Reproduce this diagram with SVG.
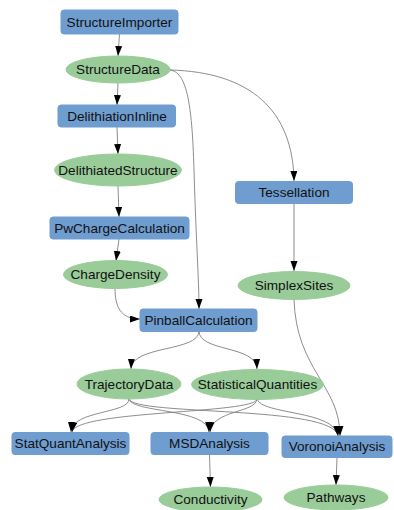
<svg xmlns="http://www.w3.org/2000/svg" width="394" height="510" viewBox="0 0 394 510">
<defs>
<marker id="arr" markerUnits="userSpaceOnUse" markerWidth="10" markerHeight="8" refX="10" refY="3.5" orient="auto">
<path d="M0,0 L10,3.5 L0,7 z" fill="#000"/>
</marker>
<style>
.box{fill:#6f9dd0;stroke:#6f9dd0;}
.ell{fill:#99cc99;stroke:#99cc99;}
.t{font-family:"Liberation Sans",Arial,sans-serif;font-size:13.6px;fill:#111;text-anchor:middle;dominant-baseline:central;}
.e{fill:none;stroke:#808080;stroke-width:0.9;marker-end:url(#arr);}
</style>
</defs>
<rect width="394" height="510" fill="#fff"/>
<g id="connectors">
<path class="e" d="M119.5,34 L118,56"/>
<path class="e" d="M118,83 L117,105"/>
<path class="e" d="M117,127 L118,154"/>
<path class="e" d="M118,186 L119,217"/>
<path class="e" d="M119,239 L116,261"/>
<path class="e" d="M115,288 C115,306 120,319 140,319"/>
<path class="e" d="M170,70 C186,72 192,100 194,170 C196,240 199,280 199,309"/>
<path class="e" d="M170,70 C250,72 293,110 294,181"/>
<path class="e" d="M294,203 L294,271"/>
<path class="e" d="M294,299 C296,370 340,385 340,436"/>
<path class="e" d="M199,331 C199,352 132,345 131,369"/>
<path class="e" d="M199,331 C199,352 256,345 257,369"/>
<path class="e" d="M129,399 C129,414 72,410 71,432"/>
<path class="e" d="M129,399 C132,413 208,408 209,432"/>
<path class="e" d="M129,399 C134,416 334,405 338,436"/>
<path class="e" d="M257,399 C256,414 76,410 72,432"/>
<path class="e" d="M257,399 C256,413 212,410 210,432"/>
<path class="e" d="M257,399 C262,415 335,410 338,436"/>
<path class="e" d="M209.5,454.5 L210.5,487"/>
<path class="e" d="M337,457.5 L336,485"/>
</g>
<g id="StructureImporter"><rect class="box" x="61" y="10" width="117" height="24" rx="3"/><text class="t" x="119.5" y="22">StructureImporter</text></g>
<g id="StructureData"><ellipse class="ell" cx="118" cy="69.5" rx="52" ry="13.5"/><text class="t" x="118" y="69.5">StructureData</text></g>
<g id="DelithiationInline"><rect class="box" x="58" y="105" width="117.5" height="22" rx="3"/><text class="t" x="117" y="116">DelithiationInline</text></g>
<g id="DelithiatedStructure"><ellipse class="ell" cx="118" cy="170" rx="63.5" ry="16"/><text class="t" x="118" y="170">DelithiatedStructure</text></g>
<g id="Tessellation"><rect class="box" x="235.5" y="181.5" width="117" height="22" rx="3"/><text class="t" x="294" y="192.5">Tessellation</text></g>
<g id="PwChargeCalculation"><rect class="box" x="50" y="217" width="139" height="22" rx="3"/><text class="t" x="119.5" y="228">PwChargeCalculation</text></g>
<g id="ChargeDensity"><ellipse class="ell" cx="115.5" cy="274.5" rx="52" ry="14"/><text class="t" x="115.5" y="274.5">ChargeDensity</text></g>
<g id="SimplexSites"><ellipse class="ell" cx="294" cy="285.5" rx="56" ry="14"/><text class="t" x="294" y="285.5">SimplexSites</text></g>
<g id="PinballCalculation"><rect class="box" x="140" y="309" width="117" height="22.5" rx="3"/><text class="t" x="198.5" y="320.5">PinballCalculation</text></g>
<g id="TrajectoryData"><ellipse class="ell" cx="129" cy="384" rx="52" ry="15"/><text class="t" x="129" y="384">TrajectoryData</text></g>
<g id="StatisticalQuantities"><ellipse class="ell" cx="257.5" cy="384.5" rx="66" ry="15"/><text class="t" x="257.5" y="384.5">StatisticalQuantities</text></g>
<g id="StatQuantAnalysis"><rect class="box" x="12" y="432.5" width="117" height="22" rx="3"/><text class="t" x="70.5" y="443.5">StatQuantAnalysis</text></g>
<g id="MSDAnalysis"><rect class="box" x="151" y="432.5" width="117" height="22" rx="3"/><text class="t" x="209.5" y="443.5">MSDAnalysis</text></g>
<g id="VoronoiAnalysis"><rect class="box" x="282" y="436" width="110" height="21.5" rx="3"/><text class="t" x="337" y="446.7">VoronoiAnalysis</text></g>
<g id="Conductivity"><ellipse class="ell" cx="210.5" cy="499.5" rx="51.5" ry="12.5"/><text class="t" x="210.5" y="499.5">Conductivity</text></g>
<g id="Pathways"><ellipse class="ell" cx="336" cy="497.5" rx="52" ry="12.5"/><text class="t" x="336" y="497.5">Pathways</text></g>
</svg>
